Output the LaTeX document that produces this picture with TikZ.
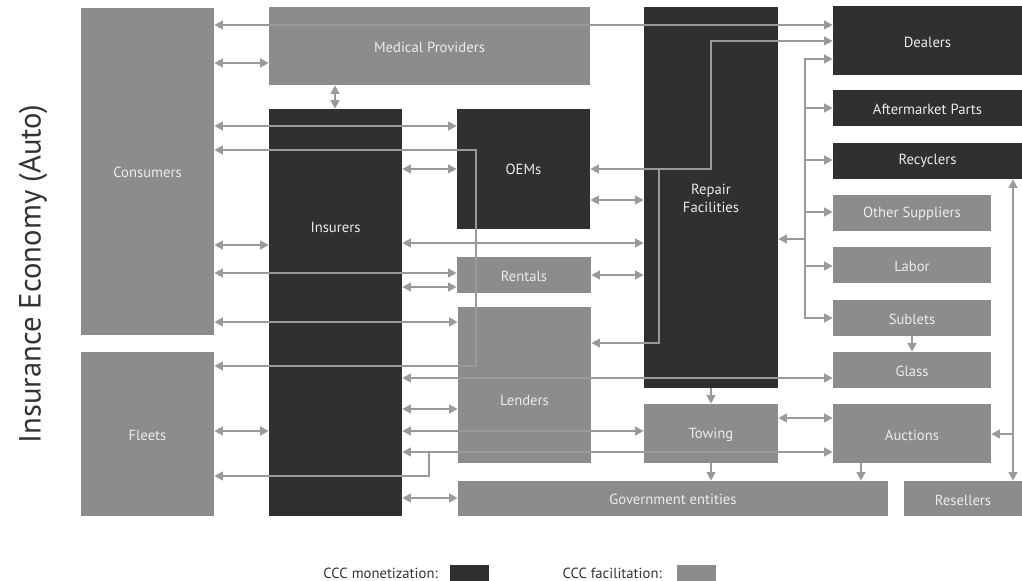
\documentclass[tikz,border=0pt]{standalone}
\usepackage{fontspec}
\setmainfont{PT Sans}
\usetikzlibrary{arrows.meta}
\definecolor{darkc}{HTML}{303030}
\definecolor{facc}{HTML}{8C8C8C}
\definecolor{arrc}{HTML}{9A9A9A}
\definecolor{txtc}{HTML}{ECECEC}
\definecolor{inkc}{HTML}{333333}
\newcommand\bx[8]{%
  \node[#2, minimum width={(#5-#3)*0.75pt}, minimum height={(#6-#4)*0.75pt}] (#1) at ({(#3+#5)/2},{(#4+#6)/2}) {};
  \node[lbl] (#1-t) at ({(#3+#5)/2},#8) {#7};}
\begin{document}
\begin{tikzpicture}[x=0.75pt,y=-0.75pt,
  mon/.style={fill=darkc, draw=none, inner sep=0pt, rectangle},
  fac/.style={fill=facc, draw=none, inner sep=0pt, rectangle},
  lbl/.style={text=txtc, font=\fontsize{11}{13.5}\selectfont, inner sep=0pt, align=center},
  con/.style={draw=arrc, line width=2pt},
  >={Triangle[length=6.5pt,width=6.5pt]}]
\useasboundingbox (0,0) rectangle (1022,581);
% boxes
\bx{Consumers}{fac}{81}{8}{214}{335}{Consumers}{172}
\bx{Fleets}{fac}{81}{352}{214}{516}{Fleets}{435}
\bx{Medical}{fac}{269}{7}{590}{85}{Medical Providers}{47}
\bx{Insurers}{mon}{269}{109}{402}{516}{Insurers}{227}
\bx{OEMs}{mon}{457}{109}{590}{229}{OEMs}{169}
\bx{Rentals}{fac}{457}{257}{591}{293}{Rentals}{276}
\bx{Lenders}{fac}{458}{307}{591}{463}{Lenders}{400}
\bx{Repair}{mon}{644}{7}{778}{388}{Repair\\Facilities}{198}
\bx{Towing}{fac}{644}{404}{778}{463}{Towing}{435}
\bx{Gov}{fac}{458}{481}{888}{516}{Government entities}{499}
\bx{Dealers}{mon}{833}{6}{1022}{75}{Dealers}{42}
\bx{After}{mon}{833}{90}{1022}{126}{Aftermarket Parts}{109}
\bx{Recyclers}{mon}{833}{143}{1022}{179}{Recyclers}{161}
\bx{Other}{fac}{833}{195}{991}{231}{Other Suppliers}{214}
\bx{Labor}{fac}{833}{247}{991}{283}{Labor}{266}
\bx{Sublets}{fac}{833}{300}{991}{336}{Sublets}{319}
\bx{Glass}{fac}{833}{352}{991}{388}{Glass}{371}
\bx{Auctions}{fac}{833}{404}{991}{463}{Auctions}{435}
\bx{Resellers}{fac}{904}{481}{1022}{516}{Resellers}{500}
% connectors
\draw[con,<->] (Consumers.east |- 0,25) -- (Dealers.west |- 0,25);
\draw[con,<->] (Consumers.east |- 0,63) -- (Medical.west |- 0,63);
\draw[con,<->] (Medical.south -| 335,0) -- (Insurers.north -| 335,0);
\draw[con,<->] (Consumers.east |- 0,126) -- (OEMs.west |- 0,126);
\draw[con,<->] (Consumers.east |- 0,150) -| (476,366) -- (Fleets.east |- 0,366);
\draw[con,<->] (Insurers.east |- 0,169) -- (OEMs.west |- 0,169);
\draw[con,<->] (OEMs.east |- 0,169) -- (711,169) |- (Dealers.west |- 0,41);
\draw[con,->] (659,169) |- (Lenders.east |- 0,343);
\draw[con,<->] (OEMs.east |- 0,200) -- (Repair.west |- 0,200);
\draw[con,<->] (Insurers.east |- 0,243) -- (Repair.west |- 0,243);
\draw[con,<->] (Consumers.east |- 0,245) -- (Insurers.west |- 0,245);
\draw[con,<->] (Consumers.east |- 0,273) -- (Rentals.west |- 0,273);
\draw[con,<->] (Insurers.east |- 0,287) -- (Rentals.west |- 0,287);
\draw[con,<->] (Rentals.east |- 0,275) -- (Repair.west |- 0,275);
\draw[con,<->] (Consumers.east |- 0,322) -- (Lenders.west |- 0,322);
\draw[con,<->] (Insurers.east |- 0,378) -- (Glass.west |- 0,378);
\draw[con,<->] (Insurers.east |- 0,409) -- (Lenders.west |- 0,409);
\draw[con,<->] (Insurers.east |- 0,431) -- (Towing.west |- 0,431);
\draw[con,<->] (Insurers.east |- 0,452) -- (Auctions.west |- 0,452);
\draw[con,->] (429,452) |- (Fleets.east |- 0,476);
\draw[con,<->] (Insurers.east |- 0,498) -- (Gov.west |- 0,498);
\draw[con,<->] (Fleets.east |- 0,431) -- (Insurers.west |- 0,431);
\draw[con,->] (Repair.south -| 711,0) -- (Towing.north -| 711,0);
\draw[con,->] (Towing.south -| 711,0) -- (Gov.north -| 711,0);
\draw[con,<->] (Towing.east |- 0,418) -- (Auctions.west |- 0,418);
\draw[con,->] (Auctions.south -| 861,0) -- (Gov.north -| 861,0);
\draw[con,->] (Sublets.south -| 912,0) -- (Glass.north -| 912,0);
\draw[con,<->] (Recyclers.south -| 1013,0) -- (Resellers.north -| 1013,0);
\draw[con,->] (1013,434) -- (Auctions.east |- 0,434);
\draw[con,<->] (Dealers.west |- 0,59) -| (805,318) -- (Sublets.west |- 0,318);
\draw[con,->] (805,108) -- (After.west |- 0,108);
\draw[con,->] (805,160) -- (Recyclers.west |- 0,160);
\draw[con,->] (805,212) -- (Other.west |- 0,212);
\draw[con,->] (805,266) -- (Labor.west |- 0,266);
\draw[con,->] (805,239) -- (Repair.east |- 0,239);
% title
\node[text=inkc, rotate=90, font=\fontsize{23}{26}\selectfont, inner sep=0pt] (title) at (33,274) {Insurance Economy (Auto)};
% legend
\node[text=inkc, font=\fontsize{11}{13}\selectfont, anchor=east, inner sep=0pt] (legm) at (438,573) {CCC monetization:};
\node[mon, minimum width={39*0.75pt}, minimum height={16*0.75pt}] (swm) at (469.5,572.5) {};
\node[text=inkc, font=\fontsize{11}{13}\selectfont, anchor=east, inner sep=0pt] (legf) at (662,573) {CCC facilitation:};
\node[fac, minimum width={39*0.75pt}, minimum height={16*0.75pt}] (swf) at (696.5,572.5) {};
\end{tikzpicture}
\end{document}
